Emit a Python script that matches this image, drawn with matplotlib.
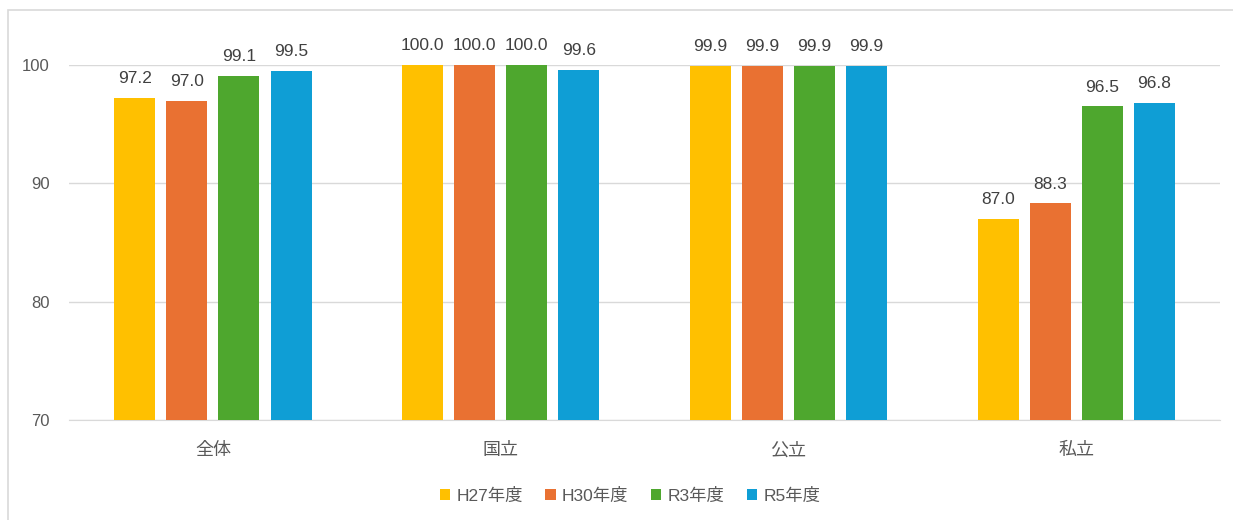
import numpy as np
import matplotlib.pyplot as plt
from matplotlib.patches import Rectangle

plt.rcParams['font.family'] = ['Liberation Sans', 'Noto Sans CJK JP', 'DejaVu Sans']

categories = ["全体", "国立", "公立", "私立"]
series = ["H27年度", "H30年度", "R3年度", "R5年度"]
h27 = [97.2, 100.0, 99.9, 87.0]
h30 = [97.0, 100.0, 99.9, 88.3]
r3 = [99.1, 100.0, 99.9, 96.5]
r5 = [99.5, 99.6, 99.9, 96.8]
colors = ["#FFC000", "#E97132", "#4EA72E", "#0F9ED5"]

fig = plt.figure(figsize=(12.33, 5.2), dpi=100)
ax = fig.add_axes([0.056, 0.1923, 0.9335, 0.6827])

# outer chart border (cut at right/bottom like the source)
fig.patches.append(Rectangle((8 / 1233, -0.1), 1.2, 1 - 10 / 520 + 0.1,
                             transform=fig.transFigure, fill=False,
                             edgecolor="#d9d9d9", linewidth=1.2))

x = np.arange(len(categories))
w = 0.1425
step = 0.181
for i, (vals, name, c) in enumerate(zip([h27, h30, r3, r5], series, colors)):
    pos = x + (i - 1.5) * step
    ax.bar(pos, np.array(vals) - 70, width=w, bottom=70, color=c, label=name, zorder=3)
    for p, v in zip(pos, vals):
        ax.text(p, v + 1.0, f"{v:.1f}", ha="center", va="bottom",
                fontsize=12.5, color="#404040", clip_on=False)

ax.set_xlim(-0.5, 3.5)
ax.set_ylim(70, 100)
ax.set_yticks([70, 80, 90, 100])
ax.grid(axis="y", color="#d9d9d9", linewidth=1, zorder=0)
for s in ["top", "right", "left"]:
    ax.spines[s].set_visible(False)
ax.spines["bottom"].set_color("#d9d9d9")
ax.set_xticks(x)
ax.set_xticklabels(categories)
ax.tick_params(axis="x", length=0, pad=16, labelsize=13, labelcolor="#595959")
ax.tick_params(axis="y", length=0, pad=14, labelsize=12, labelcolor="#595959")

fig.legend(loc="center", bbox_to_anchor=(0.511, 0.047), ncol=4, frameon=False,
           fontsize=12.5, handlelength=0.6, handleheight=0.6, columnspacing=1.3,
           handletextpad=0.35, labelcolor="#595959")

plt.savefig("out.png", dpi=100)
